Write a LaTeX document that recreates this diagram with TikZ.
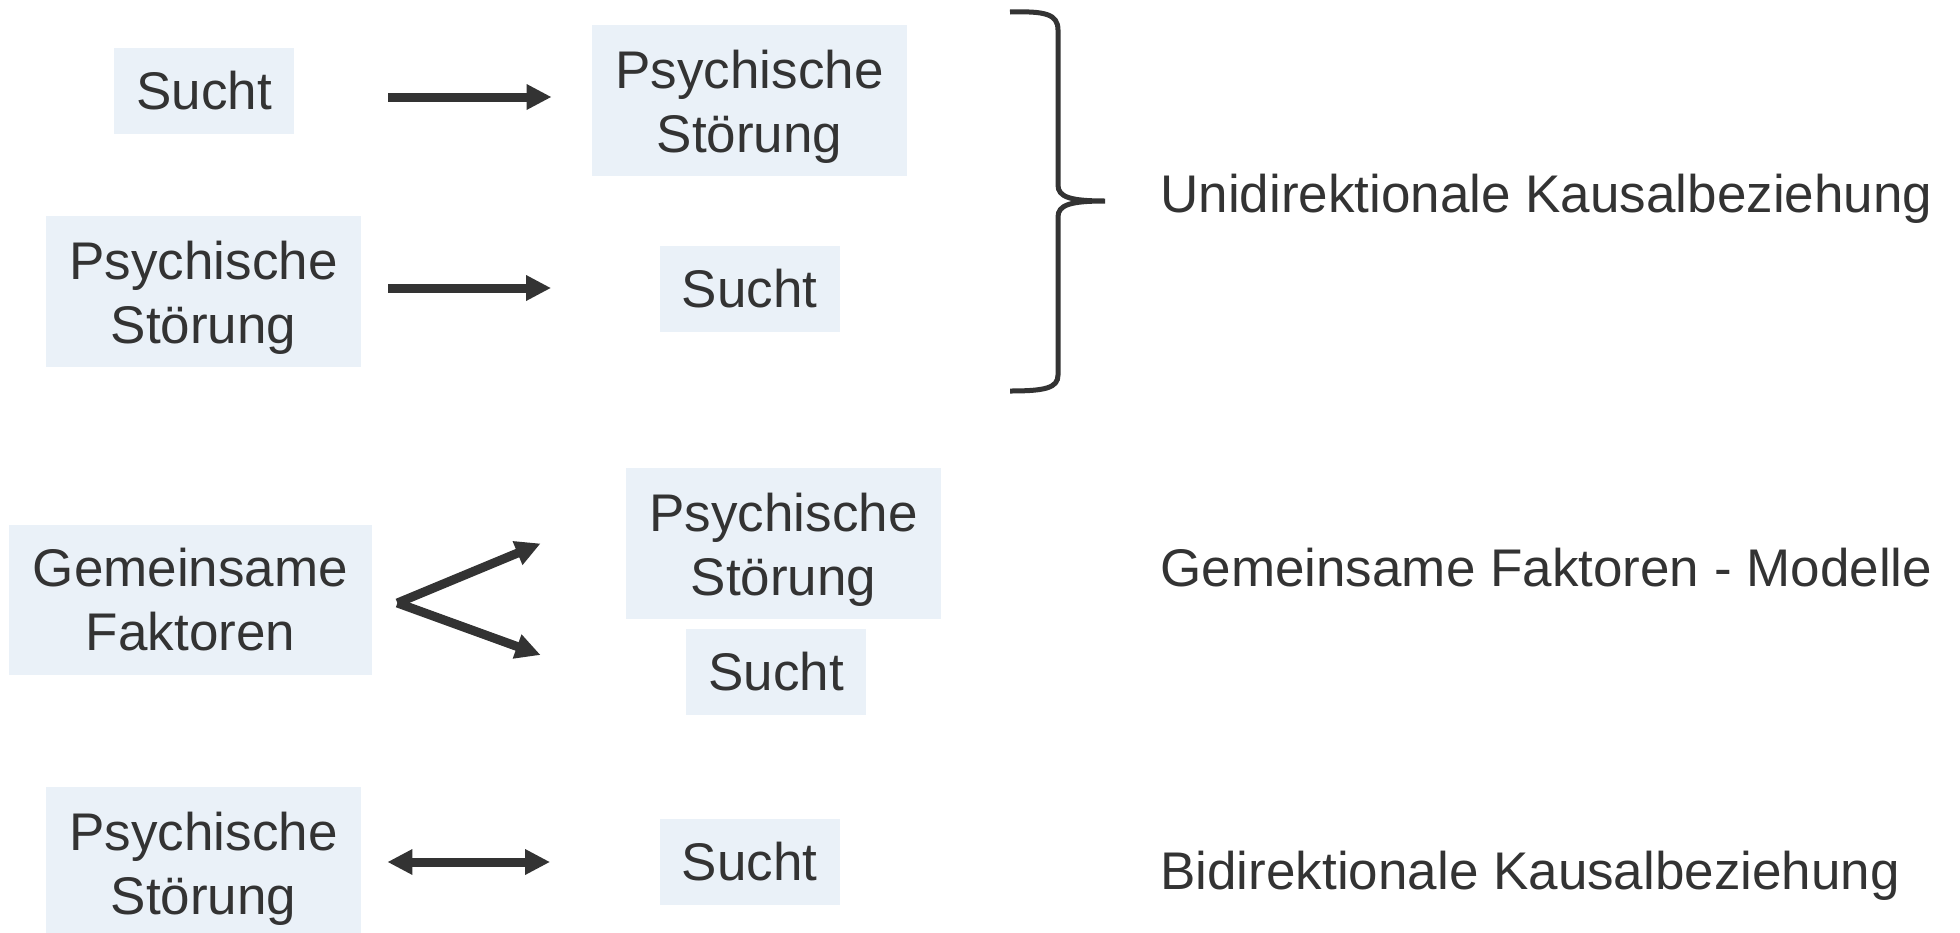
\documentclass[tikz,border=0pt]{standalone}
\usepackage{fontspec}
\setmainfont{Liberation Sans}
\usetikzlibrary{arrows.meta}
\definecolor{txt}{HTML}{333333}
\definecolor{boxfill}{HTML}{EAF1F8}
\newcommand{\tallline}{\rule{0pt}{25pt}}
\begin{document}
\begin{tikzpicture}[x=0.5pt,y=-0.5pt,
  every node/.style={font=\fontsize{26.5}{32}\selectfont, text=txt},
  box/.style={fill=boxfill, inner sep=0pt, align=center},
  sbox/.style={box, minimum width=90pt, minimum height=43pt},
  pbox/.style={box, minimum width=157.5pt, minimum height=75.5pt},
  gbox/.style={box, minimum width=181.5pt, minimum height=75pt},
  arr/.style={draw=txt, line width=4.5pt, -{Triangle[length=12.5pt,width=12pt]}},
  darr/.style={draw=txt, line width=4.5pt, {Triangle[length=12.5pt,width=12pt]}-{Triangle[length=12.5pt,width=12pt]}},
  lbl/.style={anchor=base west, inner sep=0pt},
  brace/.style={draw=txt, line width=2.5pt}
]
\useasboundingbox (0,0) rectangle (1960,932);

% row 1
\node[sbox] (s1) at (204,91) {Sucht};
\node[pbox] (p1) at (749.5,100.5) {\tallline Psychische\\Störung};
% row 2
\node[pbox] (p2) at (203.5,291.5) {\tallline Psychische\\Störung};
\node[sbox] (s2) at (749.5,289) {Sucht};
% row 3
\node[gbox] (g) at (190.5,600) {Gemeinsame\\Faktoren};
\node[pbox] (p3) at (783.5,543.5) {\tallline Psychische\\Störung};
\node[sbox] (s3) at (776,672) {Sucht};
% row 4
\node[pbox] (p4) at (203.5,862.5) {\tallline Psychische\\Störung};
\node[sbox] (s4) at (749.5,861.5) {Sucht};

% labels
\node[lbl] (u) at (1160,212) {Unidirektionale Kausalbeziehung};
\node[lbl] (gm) at (1160,586) {Gemeinsame Faktoren - Modelle};
\node[lbl] (bi) at (1160,889) {Bidirektionale Kausalbeziehung};

% arrows
\draw[arr, shorten <=47pt, shorten >=20pt] (s1.east |- 0,97) -- (p1.west |- 0,97);
\draw[arr, shorten <=13.5pt, shorten >=54pt] (p2.east |- 0,288) -- (s2.west |- 0,288);
\coordinate (fork) at ([xshift=12.5pt,yshift=-1.5pt]g.east);
\draw[arr] (fork) -- ([xshift=-42.5pt]p3.west);
\draw[arr] (fork) -- ([xshift=-72.5pt,yshift=8.5pt]s3.west);
\draw[darr, shorten <=13pt, shorten >=54.5pt] (p4.east |- 0,862) -- (s4.west |- 0,862);

% brace
\draw[brace] (1010,12) .. controls (1045,11) and (1058,14) .. (1058,30)
  -- (1058,185) .. controls (1058,197) and (1070,201) .. (1105,201)
  .. controls (1070,201) and (1058,205) .. (1058,217)
  -- (1058,375) .. controls (1058,388) and (1045,391) .. (1010,391);
\end{tikzpicture}
\end{document}
